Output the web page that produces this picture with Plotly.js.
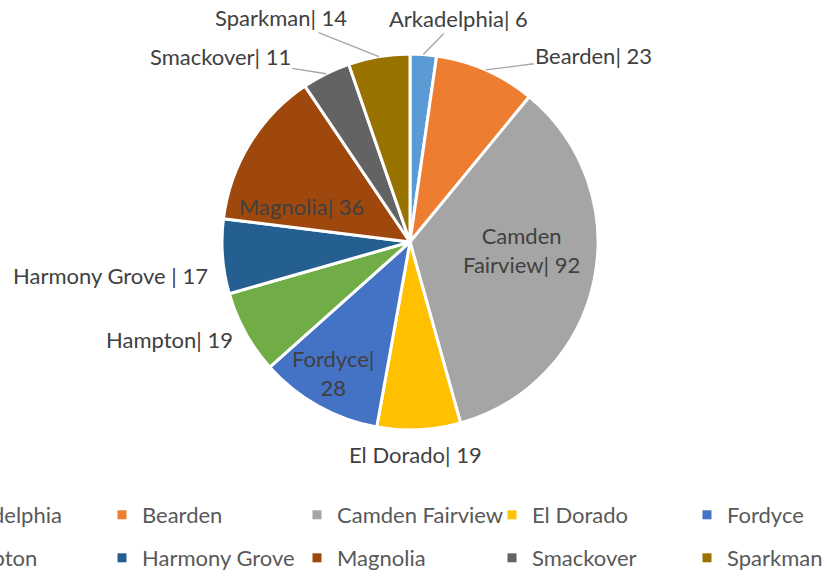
<!DOCTYPE html>
<html>
<head>
<meta charset="utf-8">
<script src="https://cdn.plot.ly/plotly-3.0.1.min.js"></script>
<style>html,body{margin:0;padding:0;background:#fff;}#chart{width:827px;height:576px;}</style>
</head>
<body>
<div id="chart"></div>
<script>
// ---- data ----
const categories = ["Arkadelphia", "Bearden", "Camden Fairview", "El Dorado", "Fordyce",
                    "Hampton", "Harmony Grove", "Magnolia", "Smackover", "Sparkman"];
const values = [6, 23, 92, 19, 28, 19, 17, 36, 11, 14];
const labelTexts = ["Arkadelphia| 6", "Bearden| 23", "Camden<br>Fairview| 92", "El Dorado| 19",
                    "Fordyce|<br>28", "Hampton| 19", "Harmony Grove | 17", "Magnolia| 36",
                    "Smackover| 11", "Sparkman| 14"];
const colors = ["#5B9BD5", "#ED7D31", "#A5A5A5", "#FFC000", "#4472C4",
                "#70AD47", "#255E91", "#9E480E", "#636363", "#997300"];

// ---- label layout (pixel offsets from slice edge midpoint) ----
const labelOffsets = [[35, -36], [108, -14], [-72, -31], [-3, 25], [15, -33],
                      [-76, 7], [-112, 19], [52, 63], [-106, -17], [-98, -39]];
const leaderLine = [true, true, false, false, false, false, false, false, true, true];

// legend grid (pixels): column lefts and row centres
const legendColLeft = [-93, 102, 297, 492, 687];
const legendRowY = [515, 558];

const FONT = "Lato, 'Open Sans', sans-serif";
const FS = 22;
const total = values.reduce((a, b) => a + b, 0);

// plot area in pixels
const M = {l: 222, r: 229, t: 54, b: 146};
const PW = 827 - M.l - M.r, PH = 576 - M.t - M.b;
const px2x = p => (p - M.l) / PW;
const py2y = p => 1 - (p - M.t) / PH;

const traces = [{
  type: "pie",
  labels: categories,
  values: values,
  sort: false,
  direction: "clockwise",
  rotation: 0,
  marker: {colors: colors, line: {color: "#ffffff", width: 3}},
  textinfo: "none",
  hoverinfo: "label+value",
  showlegend: false,
  domain: {x: [0, 1], y: [0, 1]}
}];

const layout = {
  width: 827, height: 576,
  margin: {l: M.l, r: M.r, t: M.t, b: M.b, autoexpand: false},
  paper_bgcolor: "#ffffff", plot_bgcolor: "rgba(0,0,0,0)",
  xaxis: {visible: false}, yaxis: {visible: false},
  showlegend: true,
  font: {family: FONT}
};

// one legend per entry, arranged in the reference's 5 x 2 grid
categories.forEach((c, i) => {
  const key = i === 0 ? "legend" : "legend" + (i + 1);
  traces.push({
    type: "scatter", mode: "markers", x: [null], y: [null],
    name: c,
    marker: {symbol: "square", size: 9, color: colors[i]},
    legend: key,
    hoverinfo: "skip"
  });
  layout[key] = {
    orientation: "h", xanchor: "left", yanchor: "middle",
    x: px2x(legendColLeft[i % 5]), y: py2y(legendRowY[Math.floor(i / 5)]),
    font: {family: FONT, size: FS, color: "#595959"},
    bgcolor: "rgba(0,0,0,0)"
  };
});

// labels placed from the slice angles
const annotations = [];
let cum = 0;
values.forEach((v, i) => {
  const mid = (cum + v / 2) / total * 2 * Math.PI;
  cum += v;
  const x = 0.5 + 0.5 * Math.sin(mid);
  const y = 0.5 + 0.5 * Math.cos(mid);
  const off = labelOffsets[i];
  const a = {
    xref: "paper", yref: "paper", x: x, y: y,
    text: labelTexts[i],
    font: {family: FONT, size: FS, color: "#404040"},
    xanchor: "center", yanchor: "middle", align: "center"
  };
  if (leaderLine[i]) {
    Object.assign(a, {showarrow: true, ax: off[0], ay: off[1], arrowhead: 0,
                      arrowwidth: 1.3, arrowcolor: "#A6A6A6", standoff: 0});
  } else {
    Object.assign(a, {showarrow: false, xshift: off[0], yshift: -off[1]});
  }
  annotations.push(a);
});
layout.annotations = annotations;

Plotly.newPlot("chart", traces, layout, {displayModeBar: false, staticPlot: true});
</script>
</body>
</html>
